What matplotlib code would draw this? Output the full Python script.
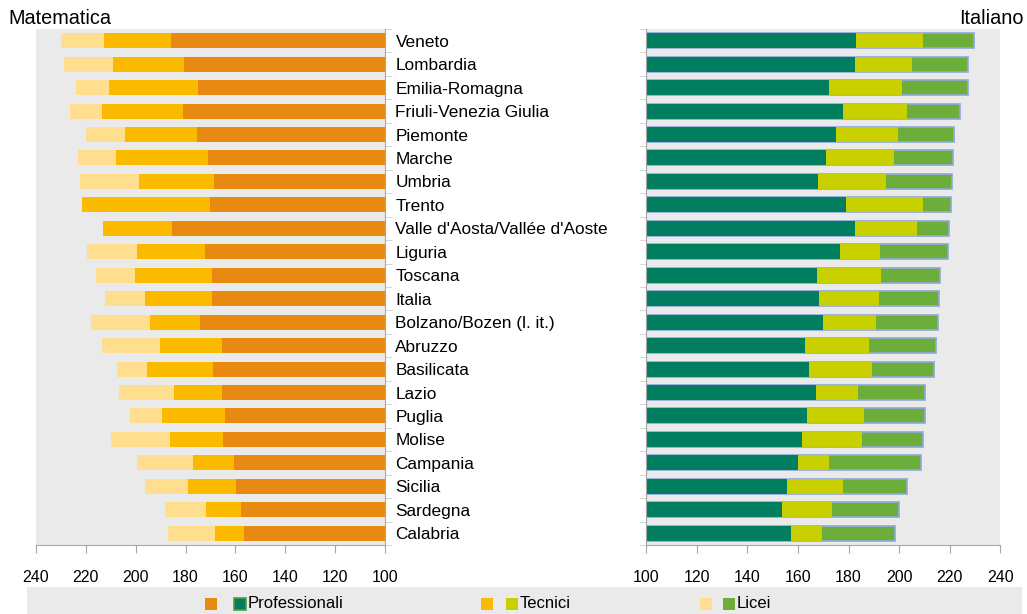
import numpy as np
import matplotlib
matplotlib.use("Agg")
import matplotlib.pyplot as plt
from matplotlib.patches import Rectangle

plt.rcParams['font.family'] = ['Liberation Sans', 'DejaVu Sans']

regions = ["Veneto", "Lombardia", "Emilia-Romagna", "Friuli-Venezia Giulia", "Piemonte",
           "Marche", "Umbria", "Trento", "Valle d'Aosta/Vallée d'Aoste", "Liguria",
           "Toscana", "Italia", "Bolzano/Bozen (l. it.)", "Abruzzo", "Basilicata",
           "Lazio", "Puglia", "Molise", "Campania", "Sicilia", "Sardegna", "Calabria"]

# Matematica
mat_prof = [185.8, 180.7, 174.9, 181.0, 175.5, 170.9, 168.5, 170.1, 185.5, 172.1, 169.3,
            169.3, 174.1, 165.2, 169.2, 165.5, 164.1, 164.9, 160.4, 159.6, 157.8, 156.6]
mat_tec = [212.6, 209.1, 210.9, 213.6, 204.2, 207.9, 198.5, 221.4, 213.3, 199.5, 200.2,
           196.3, 194.2, 190.2, 195.4, 184.6, 189.4, 186.3, 177.2, 179.1, 171.9, 168.3]
mat_lic = [230.1, 228.7, 224.1, 226.5, 220.0, 223.2, 222.5, 221.7, 210.0, 219.4, 216.1,
           212.2, 217.8, 213.4, 207.4, 206.6, 202.5, 209.9, 199.3, 196.1, 188.2, 187.0]

# Italiano
ita_prof = [182.9, 182.6, 172.4, 177.7, 175.1, 171.1, 167.8, 179.0, 182.5, 176.6, 167.4,
            168.3, 169.7, 162.8, 164.5, 167.2, 163.7, 161.7, 159.9, 155.5, 153.7, 157.2]
ita_tec = [209.4, 204.9, 201.1, 203.2, 199.6, 197.8, 194.9, 209.5, 206.9, 192.4, 192.8,
           192.1, 190.8, 188.1, 189.4, 183.7, 186.1, 185.3, 172.4, 177.9, 173.4, 169.6]
ita_lic = [229.6, 227.3, 227.1, 224.0, 221.8, 221.2, 220.9, 220.4, 219.7, 219.2, 216.1,
           215.9, 215.5, 214.4, 213.6, 210.3, 210.1, 209.4, 208.7, 203.0, 200.0, 198.3]

series = ["Professionali", "Tecnici", "Licei"]
mat_colors = ['#E88A12', '#FBBA00', '#FFDF8F']
ita_colors = ['#007E5F', '#C8D000', '#6DAD3A']

base = 100
y = np.arange(len(regions))
bh = 0.64
bg = '#EAEAEA'
axcol = '#A6A6A6'
W, H = 1027, 614

fig = plt.figure(figsize=(W / 100, H / 100), dpi=100)
ax1 = fig.add_axes([0.0351, 0.1124, 0.3398, 0.8404])
ax2 = fig.add_axes([0.6293, 0.1124, 0.3447, 0.8404])

ax1.barh(y, np.array(mat_lic) - base, left=base, height=bh, color=mat_colors[2])
ax1.barh(y, np.array(mat_tec) - base, left=base, height=bh, color=mat_colors[1])
ax1.barh(y, np.array(mat_prof) - base, left=base, height=bh, color=mat_colors[0])

ax2.barh(y, np.array(ita_lic) - base, left=base, height=bh, color=ita_colors[2],
         edgecolor='#8EA9DB', linewidth=1.2)
ax2.barh(y, np.array(ita_tec) - base, left=base, height=bh, color=ita_colors[1])
ax2.barh(y, np.array(ita_prof) - base, left=base, height=bh, color=ita_colors[0])

for ax in (ax1, ax2):
    ax.set_facecolor(bg)
    ax.set_ylim(len(regions) - 0.5, -0.5)
    ax.set_xticks(np.arange(100, 241, 20))
    ax.tick_params(axis='x', colors=axcol, labelcolor='black', labelsize=11.5,
                   length=6, pad=12)
    ax.spines['top'].set_visible(False)
    for s in ax.spines.values():
        s.set_color(axcol)

ax1.set_xlim(240, 100)
ax2.set_xlim(100, 240)

ax1.spines['left'].set_visible(False)
ax1.yaxis.tick_right()
ax1.set_yticks(y)
ax1.set_yticklabels(regions)
ax1.set_yticks(np.arange(len(regions) + 1) - 0.5, minor=True)
ax1.tick_params(axis='y', which='major', length=0, pad=7.5, labelsize=12.4)
ax1.tick_params(axis='y', which='minor', length=5, color='#D0D0D0')

ax2.spines['right'].set_visible(False)
ax2.set_yticks([])
ax2.set_yticks(np.arange(len(regions) + 1) - 0.5, minor=True)
ax2.tick_params(axis='y', which='minor', length=5, color='#D0D0D0')

fig.text(0.008, 0.985, "Matematica", ha='left', va='top', fontsize=14.3)
fig.text(0.997, 0.985, "Italiano", ha='right', va='top', fontsize=14.3)

# legend band with paired swatches
fig.add_artist(Rectangle((27 / W, 0), 995 / W, 27 / H, transform=fig.transFigure,
                         facecolor=bg, edgecolor='none', zorder=0))
starts = [205, 481, 700]
gaps = [29, 25, 23]
sq = 12
for x0, gap, name, c1, c2 in zip(starts, gaps, series, mat_colors, ita_colors):
    fig.add_artist(Rectangle((x0 / W, 4 / H), sq / W, sq / H, transform=fig.transFigure,
                             facecolor=c1, edgecolor='none'))
    ec = '#5B9B3A' if name == "Professionali" else 'none'
    fig.add_artist(Rectangle(((x0 + gap) / W, 4 / H), sq / W, sq / H,
                             transform=fig.transFigure, facecolor=c2, edgecolor=ec,
                             linewidth=1.2))
    fig.text((x0 + gap + sq + 2) / W, 10 / H, name, ha='left', va='center', fontsize=12)

fig.savefig("out.png", dpi=100)
